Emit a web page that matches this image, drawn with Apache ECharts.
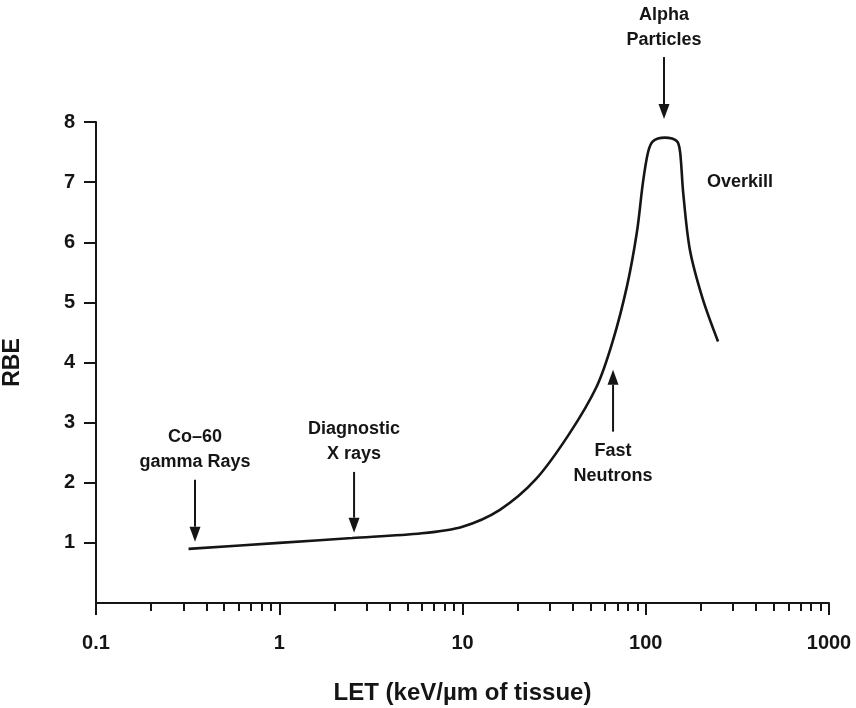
<!DOCTYPE html>
<html>
<head>
<meta charset="utf-8">
<script src="https://cdn.jsdelivr.net/npm/echarts@6/dist/echarts.min.js"></script>
<style>
  html, body { margin: 0; padding: 0; background: #fff; }
  #main { width: 856px; height: 708px; }
</style>
</head>
<body>
<div id="main"></div>
<script>
// RBE vs LET curve
var letValues = [0.32, 1, 2.5, 6, 10, 16, 25, 38, 54, 66, 79, 89.5, 96.6, 103, 109.5, 127, 148, 154, 160, 174, 205, 248];
var rbeValues = [0.9, 1.0, 1.08, 1.16, 1.27, 1.55, 2.05, 2.8, 3.6, 4.35, 5.27, 6.17, 7.0, 7.5, 7.68, 7.74, 7.68, 7.5, 6.83, 5.88, 5.05, 4.35];

// arrows + their labels (x = LET, from/to = RBE)
var noteNames = ['Co\u201360\ngamma Rays', 'Diagnostic\nX rays', 'Fast\nNeutrons', 'Alpha\nParticles'];
var noteLet = [0.347, 2.56, 66.3, 125.8];
var noteFrom = [2.05, 2.18, 2.85, 9.08];
var noteTo = [1.02, 1.17, 3.88, 8.05];

var overkillPos = [327, 7.0];

var majorTicks = [0.1, 1, 10, 100, 1000];
var minorTicks = [0.2, 0.3, 0.4, 0.5, 0.6, 0.7, 0.8, 0.9,
                  2, 3, 4, 5, 6, 7, 8, 9,
                  20, 30, 40, 50, 60, 70, 80, 90,
                  200, 300, 400, 500, 600, 700, 800, 900];
var yTicks = [1, 2, 3, 4, 5, 6, 7, 8];

var FONT = 'Liberation Sans';
var INK = '#151515';

var chart = echarts.init(document.getElementById('main'));

var curveData = [];
for (var i = 0; i < letValues.length; i++) {
	curveData.push([letValues[i], rbeValues[i]]);
}
var noteData = [];
for (var j = 0; j < noteNames.length; j++) {
	noteData.push([noteLet[j], noteFrom[j], noteTo[j], j]);
}

var option = {
	backgroundColor: '#fff',
	animation: false,
	grid: {
		left: 96, right: 27, top: 122, bottom: 105,
		containLabel: false,
		outerBoundsMode: 'none'
	},
	xAxis: [
		{
			// minor ticks + axis line
			type: 'log', logBase: 10, min: 0.1, max: 1000,
			position: 'bottom',
			axisLine: { show: true, lineStyle: { color: INK, width: 2 } },
			axisTick: { show: true, length: 8, customValues: minorTicks, lineStyle: { color: INK, width: 2 } },
			axisLabel: { show: false },
			splitLine: { show: false },
			minorTick: { show: false },
			minorSplitLine: { show: false }
		},
		{
			// decades: longer ticks, labels, title
			type: 'log', logBase: 10, min: 0.1, max: 1000,
			position: 'bottom',
			axisLine: { show: false },
			axisTick: { show: true, length: 12, customValues: majorTicks, lineStyle: { color: INK, width: 2 } },
			axisLabel: {
				show: true, customValues: majorTicks, margin: 30,
				color: INK, fontFamily: FONT, fontWeight: 'bold', fontSize: 20,
				formatter: function (v) { return String(v); }
			},
			splitLine: { show: false },
			name: 'LET (keV/\u00b5m of tissue)',
			nameLocation: 'middle',
			nameGap: 78,
			nameTextStyle: { color: INK, fontFamily: FONT, fontWeight: 'bold', fontSize: 24 }
		}
	],
	yAxis: {
		type: 'value', min: 0, max: 8, interval: 1,
		axisLine: { show: true, onZero: false, lineStyle: { color: INK, width: 2 } },
		axisTick: { show: true, length: 12, customValues: yTicks, lineStyle: { color: INK, width: 2 } },
		axisLabel: {
			margin: 21, color: INK, fontFamily: FONT, fontWeight: 'bold', fontSize: 20,
			formatter: function (v) { return v === 0 ? '' : String(v); }
		},
		splitLine: { show: false },
		name: 'RBE',
		nameLocation: 'middle',
		nameRotate: 90,
		nameGap: 72,
		nameTextStyle: { color: INK, fontFamily: FONT, fontWeight: 'bold', fontSize: 23 }
	},
	series: [
		{
			name: 'RBE',
			type: 'line',
			xAxisIndex: 0,
			data: curveData,
			smooth: 0.3,
			showSymbol: false,
			symbol: 'none',
			clip: false,
			lineStyle: { color: INK, width: 2.6 },
			markPoint: {
				symbol: 'circle',
				symbolSize: 0,
				silent: true,
				label: {
					show: true, position: 'inside', color: INK,
					fontFamily: FONT, fontWeight: 'bold', fontSize: 18,
					formatter: 'Overkill'
				},
				data: [{ coord: overkillPos }]
			}
		},
		{
			name: 'notes',
			type: 'custom',
			xAxisIndex: 0,
			clip: false,
			silent: true,
			data: noteData,
			renderItem: function (params, api) {
				var x = api.value(0);
				var p0 = api.coord([x, api.value(1)]);
				var p1 = api.coord([x, api.value(2)]);
				var idx = api.value(3);
				var dir = p1[1] > p0[1] ? 1 : -1;   // 1 = pointing down
				var head = 15, half = 5.5;
				var textY = dir === 1 ? p0[1] - 5 : p0[1] + 7;
				return {
					type: 'group',
					children: [
						{
							type: 'line',
							shape: { x1: p0[0], y1: p0[1], x2: p1[0], y2: p1[1] - dir * head },
							style: { stroke: INK, lineWidth: 2 }
						},
						{
							type: 'polygon',
							shape: { points: [[p1[0], p1[1]], [p1[0] - half, p1[1] - dir * head], [p1[0] + half, p1[1] - dir * head]] },
							style: { fill: INK }
						},
						{
							type: 'text',
							x: p0[0], y: textY,
							style: {
								text: noteNames[idx],
								fill: INK,
								font: 'bold 18px "' + FONT + '"',
								lineHeight: 25,
								align: 'center',
								verticalAlign: dir === 1 ? 'bottom' : 'top'
							}
						}
					]
				};
			}
		}
	]
};
chart.setOption(option);
</script>
</body>
</html>
